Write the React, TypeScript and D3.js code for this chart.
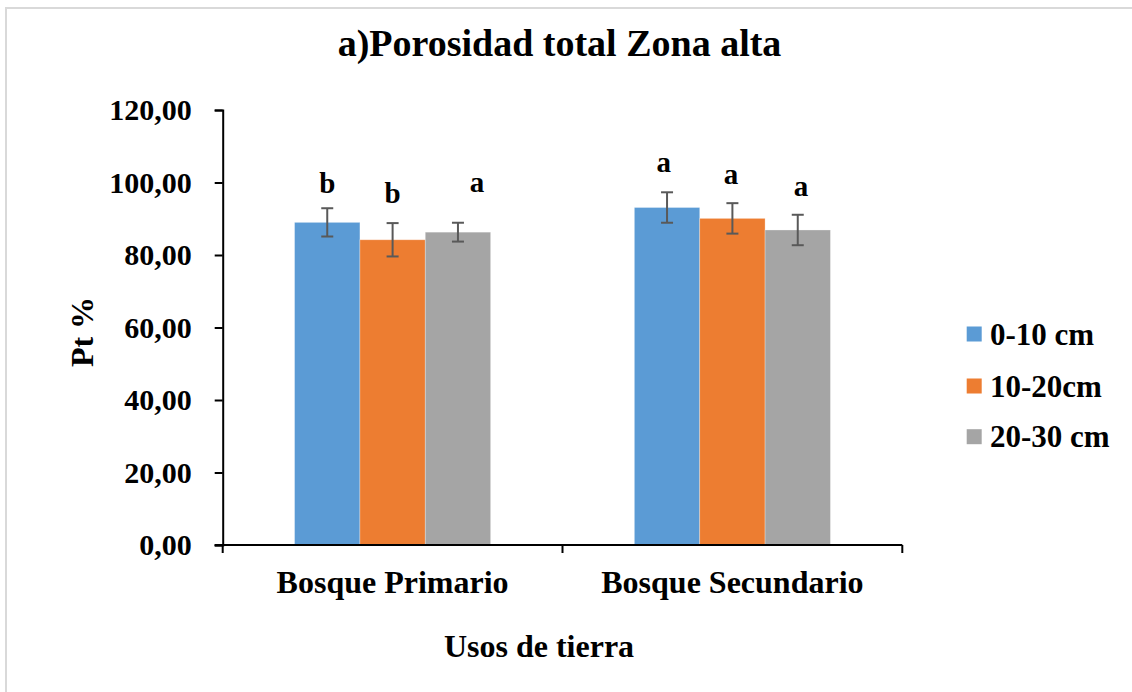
import React, { useEffect, useRef } from "react";
import * as d3 from "d3";

const categories = ["Bosque Primario", "Bosque Secundario"];
const seriesNames = ["0-10 cm", "10-20cm", "20-30 cm"];
const seriesColors = ["#5B9BD5", "#ED7D31", "#A5A5A5"];
// values[series][category]
const values0_10 = [89.0, 93.1];
const values10_20 = [84.2, 90.1];
const values20_30 = [86.3, 86.9];
const errors0_10 = [3.9, 4.2];
const errors10_20 = [4.6, 4.2];
const errors20_30 = [2.6, 4.2];
const letters0_10 = ["b", "a"];
const letters10_20 = ["b", "a"];
const letters20_30 = ["a", "a"];
const letterY0_10 = [97.0, 103.0];
const letterY10_20 = [94.3, 99.6];
const letterY20_30 = [97.3, 96.4];
const letterShift0_10 = [0, -0.05];
const letterShift10_20 = [0, -0.02];
const letterShift20_30 = [0.29, 0.05];
const yTicks = [0, 20, 40, 60, 80, 100, 120];

const series = [
  { name: seriesNames[0], color: seriesColors[0], values: values0_10, errors: errors0_10, letters: letters0_10, letterY: letterY0_10, shift: letterShift0_10 },
  { name: seriesNames[1], color: seriesColors[1], values: values10_20, errors: errors10_20, letters: letters10_20, letterY: letterY10_20, shift: letterShift10_20 },
  { name: seriesNames[2], color: seriesColors[2], values: values20_30, errors: errors20_30, letters: letters20_30, letterY: letterY20_30, shift: letterShift20_30 },
];

const FONT = "'Liberation Serif', 'Times New Roman', serif";

export default function App() {
  const ref = useRef<SVGSVGElement | null>(null);

  useEffect(() => {
    const svg = d3.select(ref.current);
    svg.selectAll("*").remove();

    const W = 1132, H = 692;
    const plot = { left: 222.7, right: 902.3, top: 110, bottom: 545 };

    svg.append("rect").attr("x", 0).attr("y", 0).attr("width", W).attr("height", H).attr("fill", "#fff");
    svg.append("rect").attr("x", 6).attr("y", 8).attr("width", W + 20).attr("height", H + 20)
      .attr("fill", "#fff").attr("stroke", "#d9d9d9").attr("stroke-width", 2);

    const y = d3.scaleLinear().domain([0, 120]).range([plot.bottom, plot.top]);
    const x0 = d3.scaleBand<string>().domain(categories).range([plot.left, plot.right]).paddingInner(0).paddingOuter(0);
    const step = x0.bandwidth();
    const groupFrac = 0.577;
    const x1 = d3.scaleBand<string>().domain(seriesNames)
      .range([step * (1 - groupFrac) / 2, step * (1 + groupFrac) / 2]).padding(0);
    const bw = x1.bandwidth();

    // Title
    svg.append("text").attr("x", 559.5).attr("y", 56).attr("text-anchor", "middle")
      .attr("font-family", FONT).attr("font-weight", "bold").attr("font-size", 38).attr("fill", "#000")
      .text("a)Porosidad total Zona alta");

    // Bars
    series.forEach((s) => {
      categories.forEach((c, i) => {
        const bx = (x0(c) as number) + (x1(s.name) as number);
        svg.append("rect").attr("x", bx).attr("y", y(s.values[i])).attr("width", bw)
          .attr("height", y(0) - y(s.values[i])).attr("fill", s.color)
          .attr("stroke", "#ffffff").attr("stroke-opacity", 0.35).attr("stroke-width", 0.8);
      });
    });

    // Error bars
    series.forEach((s) => {
      categories.forEach((c, i) => {
        const cx = (x0(c) as number) + (x1(s.name) as number) + bw / 2;
        const hi = y(s.values[i] + s.errors[i]);
        const lo = y(s.values[i] - s.errors[i]);
        const g = svg.append("g").attr("stroke", "#595959").attr("stroke-width", 2);
        g.append("line").attr("x1", cx).attr("x2", cx).attr("y1", hi).attr("y2", lo);
        g.append("line").attr("x1", cx - 6).attr("x2", cx + 6).attr("y1", hi).attr("y2", hi);
        g.append("line").attr("x1", cx - 6).attr("x2", cx + 6).attr("y1", lo).attr("y2", lo);
      });
    });

    // Letters
    series.forEach((s) => {
      categories.forEach((c, i) => {
        const cx = (x0(c) as number) + (x1(s.name) as number) + bw / 2 + s.shift[i] * bw;
        svg.append("text").attr("x", cx).attr("y", y(s.letterY[i])).attr("text-anchor", "middle")
          .attr("font-family", FONT).attr("font-weight", "bold").attr("font-size", 29).attr("fill", "#000")
          .text(s.letters[i]);
      });
    });

    // Y axis
    const yAxis = d3.axisLeft(y).tickValues(yTicks).tickSize(8).tickPadding(23)
      .tickFormat((d) => d3.format(".2f")(d as number).replace(".", ","));
    const ya = svg.append("g").attr("transform", `translate(${plot.left},0)`).call(yAxis);
    ya.select(".domain").attr("stroke", "#000").attr("stroke-width", 2);
    ya.selectAll(".tick line").attr("stroke", "#000").attr("stroke-width", 2);
    ya.selectAll(".tick text").attr("font-family", FONT).attr("font-weight", "bold")
      .attr("font-size", 30).attr("fill", "#000");

    // X axis
    const xa = svg.append("g");
    xa.append("line").attr("x1", plot.left - 8).attr("x2", plot.right).attr("y1", plot.bottom).attr("y2", plot.bottom)
      .attr("stroke", "#000").attr("stroke-width", 2);
    const boundaries = [plot.left, ...categories.map((c) => (x0(c) as number) + step)];
    boundaries.forEach((bx) => {
      xa.append("line").attr("x1", bx).attr("x2", bx).attr("y1", plot.bottom).attr("y2", plot.bottom + 8)
        .attr("stroke", "#000").attr("stroke-width", 2);
    });
    categories.forEach((c) => {
      xa.append("text").attr("x", (x0(c) as number) + step / 2).attr("y", 593).attr("text-anchor", "middle")
        .attr("font-family", FONT).attr("font-weight", "bold").attr("font-size", 32).attr("fill", "#000")
        .text(c);
    });

    // Axis titles
    svg.append("text").attr("x", 539).attr("y", 657).attr("text-anchor", "middle")
      .attr("font-family", FONT).attr("font-weight", "bold").attr("font-size", 32).attr("fill", "#000")
      .text("Usos de tierra");
    svg.append("text").attr("transform", "translate(81.5,332) rotate(-90)").attr("text-anchor", "middle")
      .attr("dominant-baseline", "central")
      .attr("font-family", FONT).attr("font-weight", "bold").attr("font-size", 32).attr("fill", "#000")
      .text("Pt %");

    // Legend
    const legendY = [334, 386, 436.7];
    series.forEach((s, i) => {
      svg.append("rect").attr("x", 966.7).attr("y", legendY[i] - 7.5).attr("width", 15).attr("height", 15)
        .attr("fill", s.color);
      svg.append("text").attr("x", 990).attr("y", legendY[i]).attr("dominant-baseline", "central")
        .attr("font-family", FONT).attr("font-weight", "bold").attr("font-size", 31).attr("fill", "#000")
        .text(s.name);
    });
  }, []);

  return (
    <svg ref={ref} width={1132} height={692}
      style={{ position: "absolute", left: 0, top: 0, display: "block" }} />
  );
}
